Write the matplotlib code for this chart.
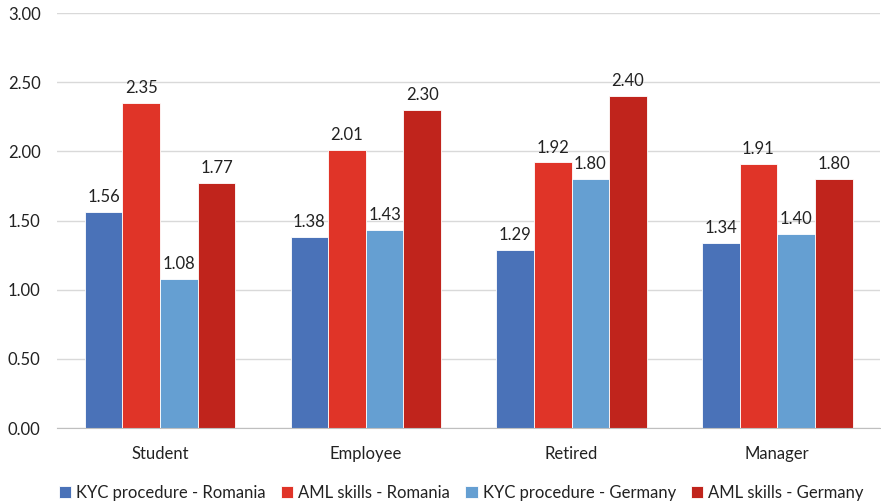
import matplotlib
matplotlib.use("Agg")
import matplotlib.pyplot as plt
import numpy as np

categories = ["Student", "Employee", "Retired", "Manager"]
series_names = ["KYC procedure - Romania", "AML skills - Romania",
                "KYC procedure - Germany", "AML skills - Germany"]
kyc_romania = [1.56, 1.38, 1.29, 1.34]
aml_romania = [2.35, 2.01, 1.92, 1.91]
kyc_germany = [1.08, 1.43, 1.80, 1.40]
aml_germany = [1.77, 2.30, 2.40, 1.80]
y_ticks = [0.0, 0.5, 1.0, 1.5, 2.0, 2.5, 3.0]

colors = ["#4A72B8", "#E03428", "#659FD2", "#C0241C"]

plt.rcParams["font.family"] = ["Lato", "DejaVu Sans"]

fig = plt.figure(figsize=(8.81, 5.03), dpi=100)
ax = fig.add_axes([0.065, 0.149, 0.934, 0.825])

series = [kyc_romania, aml_romania, kyc_germany, aml_germany]
x = np.arange(len(categories))
w = 0.183
for i, (vals, name, c) in enumerate(zip(series, series_names, colors)):
    pos = x + (i - 1.5) * w
    ax.bar(pos, vals, width=w, color=c, label=name,
           edgecolor="white", linewidth=0.6, zorder=3)
    for xp, v in zip(pos, vals):
        ax.annotate(f"{v:.2f}", (xp, v), xytext=(0, 5), textcoords="offset points",
                    ha="center", va="bottom", fontsize=12, color="#222222")

ax.set_xlim(-0.5, len(categories) - 0.5)
ax.set_ylim(0, 3.0)
ax.set_yticks(y_ticks)
ax.set_yticklabels([f"{t:.2f}" for t in y_ticks], fontsize=12, color="#222222")
ax.set_xticks(x)
ax.set_xticklabels(categories, fontsize=12, color="#222222")
ax.tick_params(axis="x", length=0, pad=13)
ax.tick_params(axis="y", length=0, pad=12)
ax.grid(axis="y", color="#D9D9D9", linewidth=1, zorder=0)
for s in ["top", "right", "left"]:
    ax.spines[s].set_visible(False)
ax.spines["bottom"].set_color("#BFBFBF")
ax.spines["bottom"].set_zorder(4)

ax.legend(loc="upper center", bbox_to_anchor=(0.491, -0.12), ncol=4, frameon=False,
          fontsize=12, handlelength=0.75, handleheight=0.75, handletextpad=0.3,
          columnspacing=0.9, labelcolor="#222222", borderaxespad=0)

fig.savefig("out.png", dpi=100)
